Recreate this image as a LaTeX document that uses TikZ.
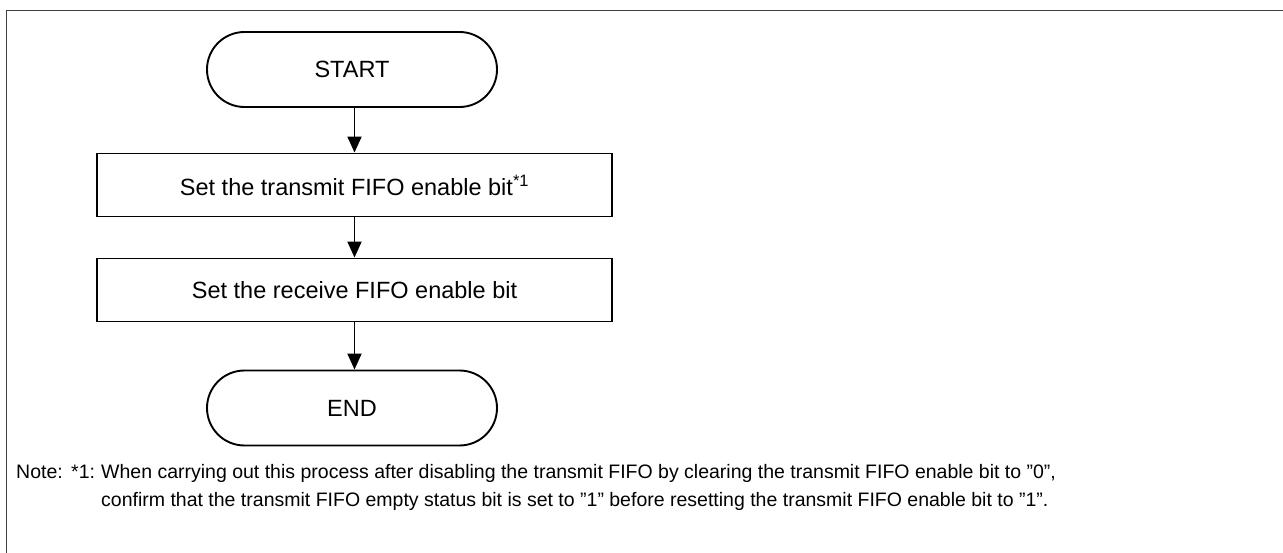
\documentclass[tikz,border=0pt]{standalone}
\usepackage{fontspec}
\setmainfont{Liberation Sans}
\usetikzlibrary{arrows.meta,shapes.misc}
\begin{document}
\begin{tikzpicture}[x=1pt,y=-1pt,
  every node/.style={font=\fontsize{23.5}{28}\selectfont},
  term/.style={draw,line width=1.9pt,rounded rectangle,minimum width=290pt,minimum height=75pt,inner sep=0pt},
  procbox/.style={draw,line width=1.9pt,rectangle,minimum width=515pt,minimum height=63pt,inner sep=0pt},
  flow/.style={line width=1.9pt,-{Triangle[length=16pt,width=14pt]}},
  notetext/.style={anchor=base west,inner sep=0pt,font=\fontsize{19.5}{24}\selectfont}]
\useasboundingbox (0,0) rectangle (1283,553);
\draw[line width=1.2pt,black!75] (6.5,553) -- (6.5,10.5) -- (1283,10.5);
\node[term] (start) at (352,69.5) {START};
\node[procbox] (tx) at (354.5,185) {Set the transmit FIFO enable bit\textsuperscript{*1}};
\node[procbox] (rx) at (354.5,290) {Set the receive FIFO enable bit};
\node[term] (end) at (352,408) {END};
\draw[flow] (start.south -| tx.north) -- (tx.north);
\draw[flow] (tx.south) -- (rx.north);
\draw[flow] (rx.south) -- (end.north -| rx.south);
\node[notetext] (n1) at (16,478) {Note:};
\node[notetext] (n2) at (71,478) {*1:};
\node[notetext] (n3) at (101,478) {When carrying out this process after disabling the transmit FIFO by clearing the transmit FIFO enable bit to "0",};
\node[notetext] (n4) at (101,506) {confirm that the transmit FIFO empty status bit is set to "1" before resetting the transmit FIFO enable bit to "1".};
\end{tikzpicture}
\end{document}
